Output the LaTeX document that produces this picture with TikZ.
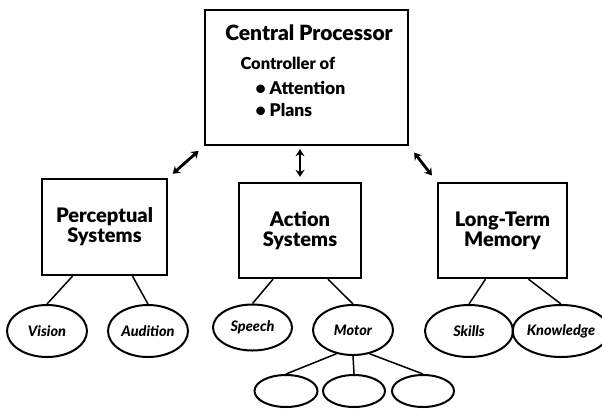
\documentclass[tikz,border=0pt]{standalone}
\usepackage{fontspec}
\setmainfont{Lato}[BoldFont={Lato Black},BoldItalicFont={Lato Black Italic}]
\usetikzlibrary{shapes.geometric,arrows.meta}
\begin{document}
\begin{tikzpicture}[x=1pt,y=-1pt,
  bigbox/.style={draw,line width=2.4pt,inner sep=0pt},
  boxlabel/.style={font=\bfseries\fontsize{20}{20}\selectfont,align=center},
  oval/.style={draw,ellipse,line width=2pt,inner sep=0pt,font=\bfseries\itshape\fontsize{14.5}{15}\selectfont},
  cptext/.style={font=\bfseries\fontsize{16.5}{18}\selectfont,anchor=west},
  link/.style={line width=1.5pt},
  arr/.style={line width=2.8pt,{Stealth[length=7pt,width=9pt]}-{Stealth[length=7pt,width=9pt]}}]
\useasboundingbox (0,0) rectangle (602,408);
% central processor
\node[bigbox,minimum width=203pt,minimum height=135pt] (cp) at (306.5,77.5) {};
\node[font=\bfseries\fontsize{21}{21}\selectfont] (cptitle) at (309,33) {Central Processor};
\node[cptext] (ctrl) at (237,63) {Controller of};
\node[cptext,font=\bfseries\fontsize{17.5}{18}\selectfont] (att) at (252,88) {•\hspace{4pt}Attention};
\node[cptext,font=\bfseries\fontsize{17.5}{18}\selectfont] (plans) at (252,110) {•\hspace{4pt}Plans};
% subsystems
\node[bigbox,minimum width=125pt,minimum height=96pt,boxlabel] (perc) at (104.5,227) {Perceptual\\Systems};
\node[bigbox,minimum width=122pt,minimum height=95pt,boxlabel] (act) at (300,230.5) {Action\\Systems};
\node[bigbox,minimum width=129pt,minimum height=95pt,boxlabel] (ltm) at (502.5,230.5) {Long-Term\\Memory};
% arrows
\draw[arr,shorten <=7pt,shorten >=6pt] (cp.south west) -- (perc.north east);
\draw[arr,shorten <=3pt,shorten >=5pt] (act.north |- cp.south) -- (act.north);
\draw[arr,shorten <=8pt,shorten >=8pt] (cp.south east) -- (ltm.north west);
% ovals
\node[oval,minimum width=80pt,minimum height=52pt] (vision) at (47,331) {Vision};
\node[oval,minimum width=80pt,minimum height=52pt] (aud) at (148,331) {Audition};
\node[oval,minimum width=79pt,minimum height=46pt] (speech) at (252.5,327.5) {Speech};
\node[oval,minimum width=80pt,minimum height=50pt] (motor) at (353,330) {Motor};
\node[oval,minimum width=88pt,minimum height=52pt] (skills) at (469,331) {Skills};
\node[oval,minimum width=78pt,minimum height=52pt] (know) at (561,331) {Knowledge};
\node[oval,minimum width=63pt,minimum height=32pt] (b1) at (286,391) {};
\node[oval,minimum width=62pt,minimum height=32pt] (b2) at (354,391) {};
\node[oval,minimum width=62pt,minimum height=32pt] (b3) at (423,391) {};
% links
\draw[link] ([xshift=-32pt]perc.south) -- (vision.north);
\draw[link] ([xshift=28pt]perc.south) -- (aud.north);
\draw[link] ([xshift=-27pt]act.south) -- (speech.north);
\draw[link] ([xshift=28pt]act.south) -- (motor.north);
\draw[link] ([xshift=-17pt]ltm.south) -- (skills.north);
\draw[link] ([xshift=26pt]ltm.south) -- (know.north);
\draw[link] (motor.235) -- (b1.north);
\draw[link] (motor.south) -- (b2.north);
\draw[link] (motor.305) -- (b3.north);
\end{tikzpicture}
\end{document}
